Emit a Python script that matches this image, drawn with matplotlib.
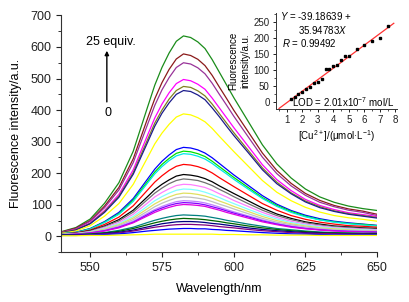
import matplotlib
matplotlib.use("Agg")
import matplotlib.pyplot as plt

plt.rcParams['font.family'] = ['Liberation Sans', 'DejaVu Sans']
plt.rcParams['mathtext.fontset'] = 'custom'
plt.rcParams['mathtext.rm'] = 'Liberation Sans'
plt.rcParams['mathtext.it'] = 'Liberation Sans:italic'

wavelength = [540, 545, 550, 555, 560, 565, 570, 572.5, 575, 577.5, 580, 582.5,
              585, 587.5, 590, 592.5, 595, 597.5, 600, 605, 610, 615, 620, 625,
              630, 635, 640, 645, 650]

spectra = [
    ("#1a8c1a", [15, 28, 55, 105, 170, 270, 410, 479, 535, 581, 618, 635, 630, 616, 595, 560, 520, 480, 440, 365, 290, 230, 185, 150, 125, 108, 96, 88, 82]),
    ("#8b1a1a", [14, 26, 50, 96, 155, 246, 374, 436, 487, 529, 562, 578, 573, 561, 541, 510, 473, 437, 400, 332, 264, 209, 168, 136, 114, 98, 87, 80, 70]),
    ("#993399", [13, 24, 48, 91, 147, 234, 355, 415, 464, 503, 535, 550, 546, 534, 515, 485, 450, 416, 381, 316, 251, 199, 160, 130, 108, 94, 83, 76, 66]),
    ("#ff00ff", [12, 22, 43, 82, 133, 211, 321, 375, 419, 455, 484, 497, 493, 482, 466, 438, 407, 376, 345, 286, 227, 180, 145, 117, 98, 85, 75, 69, 63]),
    ("#808020", [12, 21, 41, 79, 127, 202, 307, 359, 400, 435, 462, 475, 472, 461, 445, 419, 389, 359, 329, 273, 217, 172, 138, 112, 94, 81, 72, 66, 60]),
    ("#1c1c8c", [11, 20, 40, 76, 124, 197, 298, 349, 390, 423, 450, 462, 459, 448, 433, 407, 379, 349, 320, 266, 211, 167, 135, 109, 91, 79, 70, 64, 58]),
    ("#ffff00", [10, 17, 34, 64, 104, 165, 250, 293, 327, 355, 378, 388, 385, 376, 363, 342, 317, 293, 269, 223, 177, 140, 113, 92, 77, 66, 59, 54, 48]),
    ("#0000ff", [8, 13, 25, 47, 76, 120, 182, 213, 238, 258, 275, 282, 280, 274, 264, 249, 231, 213, 195, 162, 129, 102, 82, 67, 56, 48, 43, 39, 35]),
    ("#00e000", [8, 12, 24, 45, 72, 115, 174, 204, 228, 247, 263, 270, 268, 262, 253, 238, 221, 204, 187, 155, 123, 98, 79, 64, 53, 46, 41, 38, 34]),
    ("#00e8e8", [8, 12, 23, 44, 70, 111, 169, 198, 221, 240, 255, 262, 260, 254, 245, 231, 214, 198, 181, 150, 120, 95, 76, 62, 52, 45, 40, 36, 33]),
    ("#ff0000", [7, 11, 20, 38, 61, 97, 147, 172, 192, 209, 222, 228, 226, 221, 213, 201, 186, 172, 158, 131, 104, 83, 66, 54, 45, 39, 34, 32, 29]),
    ("#000000", [7, 10, 18, 33, 53, 83, 126, 148, 165, 179, 191, 196, 194, 190, 183, 173, 160, 148, 136, 113, 90, 71, 57, 46, 39, 33, 30, 27, 25]),
    ("#707070", [7, 10, 17, 31, 49, 77, 117, 137, 153, 167, 177, 182, 180, 177, 170, 161, 149, 138, 126, 104, 83, 66, 53, 43, 36, 31, 28, 25, 23]),
    ("#ff80ff", [6, 9, 15, 28, 44, 70, 106, 125, 139, 151, 161, 165, 164, 160, 155, 146, 135, 125, 114, 95, 76, 60, 48, 39, 33, 28, 25, 23, 21]),
    ("#80ffff", [6, 8, 14, 25, 40, 63, 96, 113, 126, 137, 146, 150, 149, 146, 140, 132, 123, 113, 104, 86, 69, 55, 44, 36, 30, 26, 23, 21, 19]),
    ("#e0e060", [6, 8, 13, 23, 37, 58, 88, 103, 115, 125, 133, 137, 136, 133, 128, 121, 112, 104, 95, 79, 63, 50, 40, 33, 27, 24, 21, 19, 18]),
    ("#c0c0c0", [6, 8, 12, 21, 34, 53, 80, 94, 105, 114, 122, 125, 124, 121, 117, 110, 102, 95, 87, 72, 57, 45, 37, 30, 25, 21, 19, 18, 17]),
    ("#c080ff", [5, 7, 11, 19, 31, 48, 73, 85, 95, 103, 110, 113, 112, 110, 106, 100, 93, 85, 78, 65, 52, 41, 33, 27, 22, 19, 17, 16, 15]),
    ("#8000ff", [5, 7, 11, 18, 29, 45, 69, 81, 90, 98, 104, 107, 106, 104, 100, 94, 88, 81, 74, 62, 49, 39, 31, 25, 21, 18, 16, 15, 14]),
    ("#e000e0", [5, 7, 10, 17, 27, 43, 65, 76, 85, 92, 98, 101, 100, 98, 95, 89, 83, 76, 70, 58, 46, 37, 29, 24, 20, 17, 15, 14, 13]),
    ("#008080", [5, 6, 8, 12, 19, 29, 44, 51, 57, 62, 66, 68, 67, 66, 64, 60, 56, 51, 47, 39, 32, 25, 21, 17, 14, 12, 11, 10, 10]),
    ("#006400", [4, 5, 7, 11, 16, 25, 37, 43, 48, 52, 55, 57, 56, 55, 53, 50, 47, 43, 40, 33, 27, 22, 18, 15, 12, 11, 10, 9, 9]),
    ("#000080", [4, 5, 6, 9, 13, 20, 30, 35, 40, 43, 46, 47, 47, 46, 44, 41, 39, 36, 33, 27, 22, 18, 15, 12, 10, 9, 8, 8, 7]),
    ("#800080", [3, 4, 5, 8, 11, 17, 25, 29, 32, 35, 37, 38, 38, 37, 36, 34, 31, 29, 27, 22, 18, 15, 12, 10, 9, 8, 7, 7, 6]),
    ("#0000ff", [3, 3, 4, 6, 8, 12, 17, 19, 21, 23, 24, 25, 25, 24, 24, 22, 21, 19, 18, 15, 12, 10, 8, 7, 6, 5, 5, 5, 5]),
    ("#ffff00", [2, 2, 3, 3, 4, 5, 6, 7, 7, 7, 7, 7, 7, 7, 7, 7, 6, 6, 6, 5, 5, 4, 4, 4, 3, 3, 3, 3, 3]),
]

cu_conc = [1.25, 1.5, 1.75, 2.0, 2.25, 2.5, 2.75, 3.0, 3.25, 3.5, 3.75, 4.0,
           4.25, 4.5, 4.75, 5.0, 5.5, 6.0, 6.5, 7.0, 7.5]
intensity = [8, 15, 25, 30, 38, 45, 57, 60, 70, 102, 103, 110,
             113, 130, 142, 142, 165, 177, 190, 200, 235]
fit_intercept = -39.18639
fit_slope = 35.94783
fit_range = [0.5, 7.9]

fig = plt.figure(figsize=(4.10, 3.02), dpi=100)
ax = fig.add_axes([0.150, 0.165, 0.770, 0.784])
for color, vals in spectra:
    ax.plot(wavelength, vals, color=color, lw=0.9)

ax.set_xlim(540, 650)
ax.set_ylim(-50, 700)
ax.set_xticks([550, 575, 600, 625, 650])
ax.set_xticks([562.5, 587.5, 612.5, 637.5], minor=True)
ax.set_yticks(range(0, 701, 100))
ax.set_yticks(range(-50, 700, 100), minor=True)
for s in ['top', 'right']:
    ax.spines[s].set_visible(False)
for s in ['left', 'bottom']:
    ax.spines[s].set_color('#333333')
    ax.spines[s].set_linewidth(0.8)
ax.tick_params(which='major', length=3.5, width=0.8, labelsize=9, colors='#222222')
ax.tick_params(which='minor', length=2, width=0.7, colors='#333333')
ax.set_xlabel('Wavelength/nm', fontsize=9)
ax.set_ylabel('Fluorescence intensity/a.u.', fontsize=9)
ax.xaxis.set_label_coords(0.5, -0.13)
ax.yaxis.set_label_coords(-0.125, 0.5)

ax.annotate('', xy=(555.8, 588), xytext=(555.8, 426),
            arrowprops=dict(arrowstyle='-|>', color='black', lw=1.0,
                            mutation_scale=6, shrinkA=0, shrinkB=0))
ax.text(557.3, 615, '25 equiv.', ha='center', va='center', fontsize=9)
ax.text(556.1, 390, '0', ha='center', va='center', fontsize=9)

ins = fig.add_axes([0.673, 0.639, 0.295, 0.318])
ins.patch.set_alpha(0)
ins.plot(fit_range, [fit_intercept + fit_slope * x for x in fit_range],
         color='#ff3030', lw=0.9)
ins.plot(cu_conc, intensity, 's', color='black', ms=1.6)
ins.set_xlim(0.3, 8.1)
ins.set_ylim(-23, 277)
ins.set_xticks(range(1, 9))
ins.set_xticks([0.5 + i for i in range(8)], minor=True)
ins.set_yticks(range(0, 251, 50))
ins.set_yticks(range(25, 276, 50), minor=True)
for s in ['top', 'right']:
    ins.spines[s].set_visible(False)
for s in ['left', 'bottom']:
    ins.spines[s].set_color('#333333')
    ins.spines[s].set_linewidth(0.7)
ins.tick_params(which='major', length=2.5, width=0.7, labelsize=7, pad=2, colors='#222222')
ins.tick_params(which='minor', length=1.5, width=0.6, colors='#333333')
ins.set_xlabel('[Cu$^{2+}$]/(μmol·L$^{-1}$)', fontsize=7, labelpad=2)
ins.set_ylabel('Fluorescence\nintensity/a.u.', fontsize=7, labelpad=2, linespacing=1.3)
ins.text(0.57, 267, '$Y$ = -39.18639 +', fontsize=7, va='center', ha='left')
ins.text(1.75, 224, '35.94783$X$', fontsize=7, va='center', ha='left')
ins.text(0.68, 184, '$R$ = 0.99492', fontsize=7, va='center', ha='left')
ins.text(7.92, 0, 'LOD = 2.01x10$^{-7}$ mol/L', fontsize=7, va='center', ha='right')

fig.savefig('out.png', dpi=100)
